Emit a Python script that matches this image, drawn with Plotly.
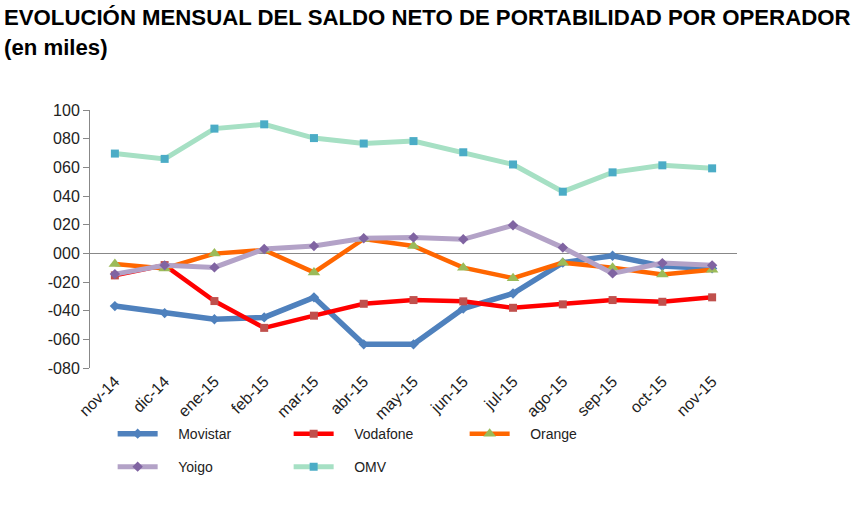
import plotly.graph_objects as go

months = ["nov-14", "dic-14", "ene-15", "feb-15", "mar-15", "abr-15", "may-15",
          "jun-15", "jul-15", "ago-15", "sep-15", "oct-15", "nov-15"]

movistar = [-36.8, -41.7, -46.0, -44.7, -30.7, -63.5, -63.5, -38.5, -28.0, -6.5, -1.7, -8.9, -10.5]
vodafone = [-15.4, -8.2, -33.3, -52.0, -43.5, -35.2, -32.6, -33.5, -38.0, -35.6, -32.6, -33.8, -30.7]
orange = [-7.5, -10.5, -0.2, 2.3, -13.3, 10.0, 5.1, -10.0, -17.3, -6.5, -10.0, -14.7, -11.5]
yoigo = [-14.5, -8.4, -9.8, 3.0, 5.1, 10.5, 11.0, 9.8, 19.6, 4.0, -14.0, -6.8, -8.4]
omv = [69.6, 65.9, 87.0, 90.0, 80.4, 76.6, 78.3, 70.5, 62.0, 43.0, 56.5, 61.4, 59.3]

y_ticks = [-80, -60, -40, -20, 0, 20, 40, 60, 80, 100]
y_tick_labels = ["-080", "-060", "-040", "-020", "000", "020", "040", "060", "080", "100"]

series = [
    ("Movistar", movistar, "#4F81BD", 5.5, "diamond", "#4F81BD", 8, "legend"),
    ("Vodafone", vodafone, "#FF0000", 4.5, "square", "#C0504D", 8, "legend"),
    ("Orange", orange, "#FF6600", 4.5, "triangle-up", "#9BBB59", 11, "legend"),
    ("Yoigo", yoigo, "#B3A2C7", 5, "diamond", "#8064A2", 8, "legend2"),
    ("OMV", omv, "#A6E0C4", 5, "square", "#4BACC6", 8, "legend2"),
]

PAD = "\u00a0\u00a0\u00a0\u00a0"

fig = go.Figure()
for name, vals, lc, lw, sym, mc, ms, lg in series:
    fig.add_trace(go.Scatter(
        x=months, y=vals, name=PAD + name, mode="lines+markers",
        line=dict(color=lc, width=lw),
        marker=dict(symbol=sym, color=mc, size=ms, line=dict(width=0)),
        legend=lg,
    ))

legend_common = dict(
    orientation="h", xanchor="left", yanchor="middle",
    entrywidth=121, entrywidthmode="pixels",
    font=dict(size=14, color="#222222"),
    itemwidth=40, bgcolor="rgba(0,0,0,0)",
)

fig.update_layout(
    width=859, height=515,
    margin=dict(l=90, r=122, t=110, b=147, autoexpand=False),
    paper_bgcolor="white", plot_bgcolor="white",
    font=dict(family="Liberation Sans, Arial, sans-serif", size=16, color="#222222"),
    showlegend=True,
    legend=dict(x=0.035, y=-0.256, **legend_common),
    legend2=dict(x=0.035, y=-0.384, **legend_common),
    annotations=[
        dict(text="<b>EVOLUCIÓN MENSUAL DEL SALDO NETO DE PORTABILIDAD POR OPERADOR</b>",
             xref="paper", yref="paper", x=-0.136, y=1.357, xanchor="left", yanchor="middle",
             showarrow=False, font=dict(size=22.2, color="#000000")),
        dict(text="<b>(en miles)</b>",
             xref="paper", yref="paper", x=-0.136, y=1.244, xanchor="left", yanchor="middle",
             showarrow=False, font=dict(size=22.2, color="#000000")),
    ],
)

fig.update_xaxes(
    type="category", showgrid=False, showline=False, ticks="",
    tickangle=-45, range=[-0.5, 12.5], tickfont=dict(size=16),
)
fig.update_yaxes(
    range=[-80, 100], tickvals=y_ticks, ticktext=y_tick_labels,
    showgrid=False, showline=True, linecolor="#888888", linewidth=1,
    ticks="outside", ticklen=6, tickcolor="#888888",
    zeroline=True, zerolinecolor="#888888", zerolinewidth=1,
    tickfont=dict(size=16),
)

fig.write_html("out.html", config={"displayModeBar": False},
               post_script="document.body.style.margin='0';")
